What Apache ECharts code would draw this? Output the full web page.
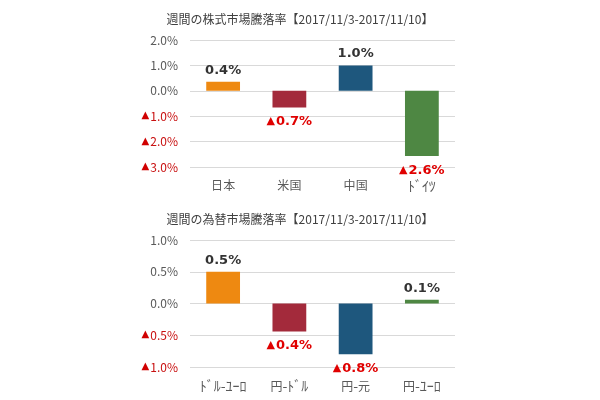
<!DOCTYPE html>
<html lang="ja">
<head>
    <meta charset="UTF-8">
    <title>週間の騰落率</title>
    <style>
      * { padding: 0; margin: 0; }
      body { background: #fff; }
    </style>
</head>
<body>
    <div id="main" style="width: 600px;height:400px;"></div>
    <script src="https://cdn.jsdelivr.net/npm/echarts@6/dist/echarts.min.js"></script>
    <script>
    // 株式市場
    var stockCats = ['日本', '米国', '中国', 'ﾄﾞｲﾂ'];
    var stockVals = [0.36, -0.66, 1.0, -2.57];
    // 為替市場
    var fxCats = ['ﾄﾞﾙ-ﾕｰﾛ', '円-ﾄﾞﾙ', '円-元', '円-ﾕｰﾛ'];
    var fxVals = [0.5, -0.44, -0.8, 0.06];
    var barColors = ['#EE8911', '#A32A3B', '#1E577D', '#4E8743'];

    var font = '"Noto Sans CJK JP", "Noto Sans", sans-serif';

    function pct(v) {
        var s = Math.abs(v).toFixed(1) + '%';
        return v < 0 ? '{tri|▲}{neg|' + s + '}' : '{pos|' + s + '}';
    }

    function toData(vals) {
        return vals.map(function (v, i) {
            return {
                value: v,
                itemStyle: { color: barColors[i] },
                label: { position: v < 0 ? 'bottom' : 'top', distance: v < 0 ? 8 : 5 }
            };
        });
    }

    var barLabel = {
        show: true,
        formatter: function (p) { return pct(p.value); },
        rich: {
            pos: { color: '#333', fontSize: 13, fontWeight: 'bold', fontFamily: 'DejaVu Sans' },
            neg: { color: '#E00000', fontSize: 13, fontWeight: 'bold', fontFamily: 'DejaVu Sans' },
            tri: { color: '#E00000', fontSize: 11, fontFamily: 'DejaVu Sans', padding: [0, 1, 1, 0] }
        }
    };

    var yLabel = {
        fontSize: 12,
        fontFamily: font,
        margin: 12,
        formatter: function (v) { return pct(v); },
        rich: {
            pos: { color: '#595959', fontSize: 12, fontFamily: font },
            neg: { color: '#C81010', fontSize: 12, fontFamily: font },
            tri: { color: '#D00000', fontSize: 10, fontFamily: 'DejaVu Sans', padding: [0, 1, 1, 0] }
        }
    };

    // 半角カナは小さく見えるので少し大きめに
    function catLabel(s) {
        return s.split(/([\uFF61-\uFF9F-]+)/).filter(function (t) { return t; }).map(function (t) {
            return /[\uFF61-\uFF9F-]/.test(t) ? '{hw|' + t + '}' : '{fw|' + t + '}';
        }).join('');
    }

    function xAxis(cats, idx) {
        return {
            type: 'category', gridIndex: idx, data: cats,
            axisLine: { show: false }, axisTick: { show: false },
            axisLabel: {
                color: '#595959', fontSize: 12, fontFamily: font, margin: 12, interval: 0,
                formatter: catLabel,
                rich: {
                    fw: { color: '#595959', fontSize: 12, fontFamily: font },
                    hw: { color: '#595959', fontSize: 14, fontFamily: font }
                }
            }
        };
    }

    function yAxis(min, max, step, idx) {
        return {
            type: 'value', gridIndex: idx, min: min, max: max, interval: step,
            axisLine: { show: false }, axisTick: { show: false },
            splitLine: { lineStyle: { color: '#D9D9D9' } },
            axisLabel: yLabel
        };
    }

    var option = {
        animation: false,
        title: [
            { text: '週間の株式市場騰落率【2017/11/3-2017/11/10】', left: 'center', top: 8,
              textStyle: { fontSize: 12, fontWeight: 'normal', color: '#404040', fontFamily: font } },
            { text: '週間の為替市場騰落率【2017/11/3-2017/11/10】', left: 'center', top: 208,
              textStyle: { fontSize: 12, fontWeight: 'normal', color: '#404040', fontFamily: font } }
        ],
        grid: [
            { left: 190, right: 145, top: 40, bottom: 233 },
            { left: 190, right: 145, top: 240, bottom: 33 }
        ],
        xAxis: [xAxis(stockCats, 0), xAxis(fxCats, 1)],
        yAxis: [yAxis(-3, 2, 1, 0), yAxis(-1, 1, 0.5, 1)],
        series: [
            { type: 'bar', xAxisIndex: 0, yAxisIndex: 0, barWidth: '51%', data: toData(stockVals), label: barLabel },
            { type: 'bar', xAxisIndex: 1, yAxisIndex: 1, barWidth: '51%', data: toData(fxVals), label: barLabel }
        ]
    };

    var myChart = echarts.init(document.getElementById('main'));
    myChart.setOption(option);
    </script>
</body>
</html>
